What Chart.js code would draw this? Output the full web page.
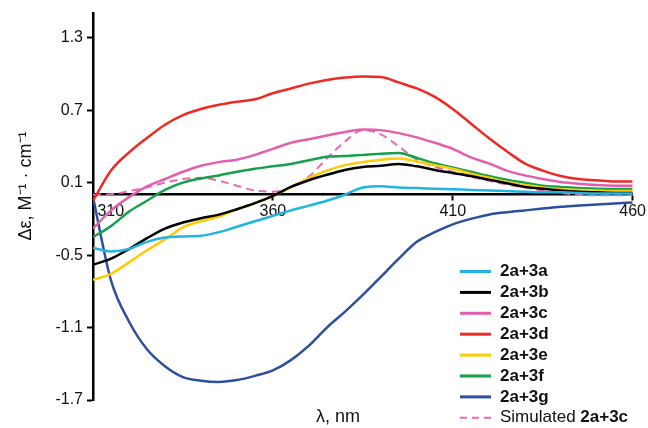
<!DOCTYPE html>
<html>
<head>
<meta charset="utf-8">
<script src="https://cdn.jsdelivr.net/npm/chart.js@4/dist/chart.umd.min.js"></script>
<style>
  html, body { margin: 0; padding: 0; background: #fff; }
  #wrap { position: relative; width: 648px; height: 428px; overflow: hidden; }
  canvas { position: absolute; left: 0; top: 0; width: 648px; height: 428px; }
</style>
</head>
<body>
<div id="wrap">
  <canvas id="c" width="648" height="428"></canvas>
</div>
<script>
// wavelengths (nm)
const wavelengths = [310,315,320,325,330,335,340,345,350,355,360,365,370,375,380,385,390,395,400,405,410,415,420,425,430,435,440,445,450,455,460];
// Δε values
const s3a = [-0.44,-0.47,-0.45,-0.39,-0.355,-0.345,-0.34,-0.31,-0.265,-0.22,-0.175,-0.13,-0.09,-0.05,0.0,0.06,0.07,0.06,0.055,0.05,0.045,0.04,0.035,0.03,0.025,0.02,0.02,0.015,0.01,0.01,0.01];
const s3b = [-0.58,-0.53,-0.45,-0.36,-0.28,-0.23,-0.195,-0.165,-0.12,-0.07,-0.01,0.065,0.12,0.165,0.205,0.23,0.24,0.255,0.235,0.205,0.18,0.155,0.125,0.095,0.065,0.05,0.035,0.025,0.02,0.015,0.015];
const s3c = [-0.28,-0.13,-0.02,0.07,0.13,0.19,0.24,0.27,0.29,0.33,0.38,0.43,0.46,0.49,0.52,0.54,0.535,0.51,0.475,0.43,0.38,0.31,0.26,0.2,0.16,0.13,0.105,0.09,0.08,0.075,0.075];
const s3d = [-0.05,0.2,0.35,0.47,0.58,0.66,0.71,0.745,0.77,0.79,0.84,0.88,0.92,0.95,0.97,0.98,0.975,0.93,0.88,0.81,0.71,0.59,0.47,0.36,0.26,0.2,0.155,0.13,0.12,0.11,0.11];
const s3e = [-0.705,-0.655,-0.56,-0.46,-0.37,-0.27,-0.22,-0.18,-0.12,-0.07,-0.01,0.06,0.14,0.2,0.245,0.27,0.29,0.3,0.275,0.245,0.215,0.175,0.14,0.105,0.08,0.06,0.045,0.04,0.035,0.03,0.03];
const s3f = [-0.35,-0.26,-0.14,-0.05,0.04,0.1,0.135,0.16,0.19,0.215,0.235,0.255,0.285,0.315,0.32,0.33,0.34,0.345,0.305,0.26,0.225,0.19,0.155,0.125,0.1,0.075,0.065,0.055,0.05,0.048,0.047];
const s3g = [-0.02,-0.71,-1.05,-1.28,-1.42,-1.51,-1.54,-1.55,-1.535,-1.5,-1.455,-1.37,-1.25,-1.1,-0.97,-0.83,-0.68,-0.53,-0.39,-0.31,-0.245,-0.2,-0.165,-0.145,-0.13,-0.115,-0.1,-0.09,-0.08,-0.072,-0.065];
const sSim = [0.0,0.005,0.03,0.06,0.1,0.13,0.14,0.115,0.075,0.035,0.025,0.06,0.15,0.3,0.44,0.535,0.5,0.4,0.29,0.23,0.19,0.15,0.115,0.085,0.06,0.035,0.015,0.0,-0.005,-0.005,0.0];
// axis ticks
const yTicks = [-1.7,-1.1,-0.5,0.1,0.7,1.3];
const xTicks = [310,360,410,460];

const seriesNames = ['2a+3a','2a+3b','2a+3c','2a+3d','2a+3e','2a+3f','2a+3g'];
const seriesData = [s3a,s3b,s3c,s3d,s3e,s3f,s3g];
const colors = ['#1fb4e3','#000000','#e35fae','#ee2a24','#ffcb05','#15a04a','#2d4fa1'];
const simColor = '#e66bb3';
const axisColor = '#000000';

const toXY = arr => arr.map((v,i) => ({x: wavelengths[i], y: v}));

const FONT = '"Liberation Sans", Arial, sans-serif';

// axis titles and legend (the legend mixes normal and bold text in one entry)
const annotPlugin = {
  id: 'annot',
  afterDraw(chart) {
    const ctx = chart.ctx;
    ctx.save();
    ctx.fillStyle = '#111';
    ctx.font = '18px ' + FONT;
    ctx.textAlign = 'center';
    ctx.textBaseline = 'middle';
    ctx.translate(26, 186);
    ctx.rotate(-Math.PI/2);
    ctx.fillText('\u0394\u03b5, M\u207b\u00b9 \u00b7 cm\u207b\u00b9', 0, 0);
    ctx.restore();

    ctx.save();
    ctx.fillStyle = '#111';
    ctx.font = '18px ' + FONT;
    ctx.textAlign = 'center';
    ctx.textBaseline = 'middle';
    ctx.fillText('\u03bb, nm', 338, 417);
    ctx.restore();

    ctx.save();
    ctx.textAlign = 'left';
    ctx.textBaseline = 'middle';
    ctx.fillStyle = '#111';
    chart.data.datasets.forEach((ds, i) => {
      const yy = 271.5 + i * 20.9;
      ctx.beginPath();
      ctx.setLineDash(ds.borderDash ? [7, 5] : []);
      ctx.lineWidth = ds.borderDash ? 2 : 3;
      ctx.strokeStyle = ds.borderColor;
      ctx.moveTo(460, yy);
      ctx.lineTo(491, yy);
      ctx.stroke();
      ctx.setLineDash([]);
      if (ds.borderDash) {
        ctx.font = '17px ' + FONT;
        const pre = 'Simulated ';
        ctx.fillText(pre, 500, yy);
        const w = ctx.measureText(pre).width;
        ctx.font = 'bold 17px ' + FONT;
        ctx.fillText('2a+3c', 500 + w, yy);
      } else {
        ctx.font = 'bold 17px ' + FONT;
        ctx.fillText(ds.label, 500, yy);
      }
    });
    ctx.restore();
  }
};

function build() {
  const datasets = seriesData.map((d,i) => ({
    label: seriesNames[i], data: toXY(d), borderColor: colors[i], borderWidth: 2.5,
    pointRadius: 0, tension: 0.4, cubicInterpolationMode: 'monotone', fill: false
  }));
  datasets.push({
    label: 'Simulated 2a+3c', data: toXY(sSim), borderColor: simColor, borderWidth: 2,
    borderDash: [8,5], pointRadius: 0, tension: 0.4, cubicInterpolationMode: 'monotone', fill: false
  });

  new Chart(document.getElementById('c'), {
    type: 'line',
    data: { datasets },
    options: {
      responsive: false,
      animation: false,
      devicePixelRatio: 1,
      events: [],
      layout: { padding: { left: 0, right: 14, top: 13, bottom: 28 } },
      plugins: { legend: { display: false }, tooltip: { enabled: false } },
      scales: {
        x: {
          type: 'linear', min: 310, max: 460,
          position: { y: 0 },
          afterBuildTicks: s => { s.ticks = xTicks.map(v => ({ value: v })); },
          // first label nudged right (it sits beside the y axis in the original)
          ticks: { callback: v => (v === 310 ? '\u00a0\u00a0\u00a0\u00a0\u00a0\u00a0\u00a0\u00a0310' : String(v)), color: '#111', font: { family: FONT, size: 16 }, padding: 2, maxRotation: 0, autoSkip: false },
          grid: { display: true, drawOnChartArea: false, drawTicks: true, tickLength: 5, tickColor: axisColor, tickWidth: 2 },
          border: { display: true, color: axisColor, width: 2.5 }
        },
        y: {
          type: 'linear', min: -1.7, max: 1.5,
          position: 'left',
          afterBuildTicks: s => { s.ticks = yTicks.map(v => ({ value: v })); },
          afterFit: s => { s.width = 93; },
          ticks: { callback: v => String(v), color: '#111', font: { family: FONT, size: 16 }, padding: 4 },
          grid: { display: true, drawOnChartArea: false, drawTicks: true, tickLength: 6, tickColor: axisColor, tickWidth: 2 },
          border: { display: true, color: axisColor, width: 2.5 }
        }
      }
    },
    plugins: [annotPlugin]
  });
}

// wait for the fonts so the chart is drawn once, with its final metrics
const fontLoads = document.fonts && document.fonts.load
  ? Promise.all([document.fonts.load('16px "Liberation Sans"'), document.fonts.load('bold 17px "Liberation Sans"')]).catch(() => {})
  : Promise.resolve();
fontLoads.then(build);
</script>
</body>
</html>
